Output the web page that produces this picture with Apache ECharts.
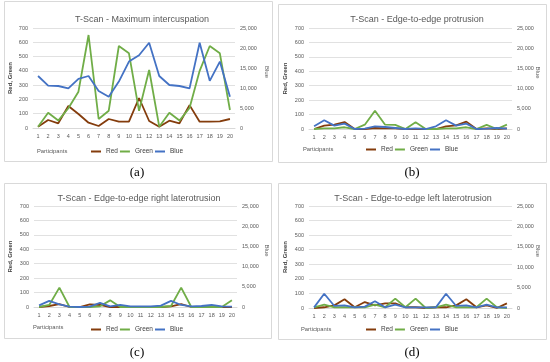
<!DOCTYPE html>
<html>
<head>
<meta charset="utf-8">
<script src="https://cdn.jsdelivr.net/npm/echarts@6/dist/echarts.min.js"></script>
<style>html,body{margin:0;padding:0;background:#fff}#c{width:550px;height:362px}</style>
</head>
<body>
<div id="c"></div>
<script>
const participants = ['1','2','3','4','5','6','7','8','9','10','11','12','13','14','15','16','17','18','19','20'];
const leftTicks = [0,100,200,300,400,500,600,700];
const rightTicks = [0,5000,10000,15000,20000,25000];
const seriesNames = ['Red','Green','Blue'];
const titles = ['T-Scan - Maximum intercuspation','T-Scan - Edge-to-edge protrusion','T-Scan - Edge-to-edge right laterotrusion','T-Scan - Edge-to-edge left laterotrusion'];
const captions = ['(a)','(b)','(c)','(d)'];
const xTitle = 'Participants';
const leftTitle = 'Red, Green';
const rightTitle = 'Blue';

const redA   = [9,56,33,154,98,37,14,63,44,44,210,49,9,51,33,160,44,44,47,63];
const greenA = [9,107,52,138,254,651,63,121,574,523,120,406,9,107,52,140,400,574,523,126];
const blueA  = [13000,10600,10500,9900,12300,13000,9250,7800,11600,16600,18200,21300,13000,10750,10500,9900,21300,11800,16600,7800];

const redB   = [0,23,30,48,0,0,7,5,5,0,0,0,0,18,25,51,0,5,0,5];
const greenB = [0,5,5,12,0,30,127,30,28,0,46,0,0,5,5,12,0,28,0,30];
const blueB  = [660,2150,830,1320,0,100,660,500,250,0,170,0,660,2150,830,1320,0,100,250,100];

const redC   = [0,7,20,0,0,18,14,0,0,0,0,0,0,5,20,0,0,0,0,0];
const greenC = [0,14,134,0,0,0,5,46,0,0,0,0,0,7,134,0,0,0,0,46];
const blueC  = [400,1500,660,80,0,80,1000,170,500,170,170,170,330,1500,500,170,250,500,170,80];

const redD   = [0,5,18,60,5,41,18,32,32,5,5,0,5,5,18,60,5,18,0,32];
const greenD = [5,23,5,5,5,5,23,5,64,5,64,0,5,23,5,5,5,64,5,0];
const blueD  = [160,3500,500,650,160,330,1640,160,820,160,160,160,160,3500,500,650,160,820,160,160];

const panelData = [
  [redA, greenA, blueA],
  [redB, greenB, blueB],
  [redC, greenC, blueC],
  [redD, greenD, blueD]
];

// layout (styles only)
const colors = ['#843C0C', '#70AD47', '#4472C4'];
const FONT = 'Liberation Sans';
const layout = [
  {box:[4,1,268,160],  grid:{left:33, top:28, width:202, height:100}, tx:137, ty:10,  lx:91,  ly:148, px:37,  py:151, cx:137, cy:173, ax:10,  bx:267},
  {box:[278,4,268,158],grid:{left:309,top:28, width:203, height:101}, tx:412, ty:10,  lx:366, ly:146, px:303, py:149, cx:412, cy:173, ax:285, bx:538},
  {box:[4,183,267,155],grid:{left:34, top:206,width:203, height:101}, tx:134, ty:189, lx:91,  ly:326, px:33,  py:327, cx:137, cy:353, ax:10,  bx:267},
  {box:[278,183,268,156],grid:{left:309,top:206,width:203, height:102},tx:408, ty:189, lx:366, ly:326, px:301, py:329, cx:412, cy:353, ax:285, bx:538}
];

const option = {
  backgroundColor:'#fff',
  animation:false,
  title:[], grid:[], xAxis:[], yAxis:[], series:[], legend:[], graphic:[]
};

layout.forEach((L,i)=>{
  option.graphic.push({type:'rect', shape:{x:L.box[0]+0.5,y:L.box[1]+0.5,width:L.box[2],height:L.box[3]}, style:{fill:'none',stroke:'#d9d9d9',lineWidth:1}, z:-1});
  option.title.push({text:titles[i], left:L.tx, top:L.ty, textAlign:'center', textStyle:{fontFamily:FONT,fontSize:9,fontWeight:'normal',color:'#595959'}});
  option.grid.push(Object.assign({containLabel:false}, L.grid));
  option.xAxis.push({type:'category', gridIndex:i, data:participants, boundaryGap:true,
    axisTick:{show:false}, axisLine:{lineStyle:{color:'#d9d9d9'}},
    axisLabel:{fontFamily:FONT,fontSize:5.5,color:'#595959',margin:5,interval:0}});
  option.yAxis.push({type:'value', gridIndex:i, min:leftTicks[0], max:leftTicks[leftTicks.length-1], interval:leftTicks[1]-leftTicks[0],
    axisLine:{show:false}, axisTick:{show:false},
    splitLine:{lineStyle:{color:'#d9d9d9',width:0.8}},
    axisLabel:{fontFamily:FONT,fontSize:5.5,color:'#595959',margin:5}});
  option.yAxis.push({type:'value', gridIndex:i, position:'right', min:rightTicks[0], max:rightTicks[rightTicks.length-1], interval:rightTicks[1]-rightTicks[0],
    axisLine:{show:false}, axisTick:{show:false}, splitLine:{show:false},
    axisLabel:{fontFamily:FONT,fontSize:5.5,color:'#595959',margin:5,
      formatter:v=>v.toLocaleString('en-US')}});
  seriesNames.forEach((n,k)=>{
    option.series.push({type:'line', name:n, xAxisIndex:i, yAxisIndex:i*2+(k===2?1:0),
      data:panelData[i][k], showSymbol:false, symbol:'none',
      lineStyle:{color:colors[k], width:1.8}, itemStyle:{color:colors[k]}});
  });
  option.legend.push({data:seriesNames, left:L.lx, top:L.ly, icon:'rect', itemWidth:10, itemHeight:2, itemGap:2,
    textStyle:{fontFamily:FONT,fontSize:6.5,color:'#404040'}, padding:0});
  option.graphic.push({type:'text', x:L.px, y:L.py, style:{text:xTitle, font:'5.8px "'+FONT+'"', fill:'#595959', textVerticalAlign:'middle'}});
  const midY = L.grid.top + L.grid.height/2;
  option.graphic.push({type:'text', x:L.ax, y:midY, rotation:Math.PI/2, style:{text:leftTitle, font:'bold 6px "'+FONT+'"', fill:'#404040', textAlign:'center', textVerticalAlign:'middle'}});
  option.graphic.push({type:'text', x:L.bx, y:midY-6, rotation:-Math.PI/2, style:{text:rightTitle, font:'6px "'+FONT+'"', fill:'#595959', textAlign:'center', textVerticalAlign:'middle'}});
  option.graphic.push({type:'text', x:L.cx, y:L.cy, style:{text:captions[i], font:'13px "Liberation Serif"', fill:'#000', textAlign:'center', textVerticalAlign:'middle'}});
});

const chart = echarts.init(document.getElementById('c'), null, {renderer:'canvas'});
chart.setOption(option);
</script>
</body>
</html>
